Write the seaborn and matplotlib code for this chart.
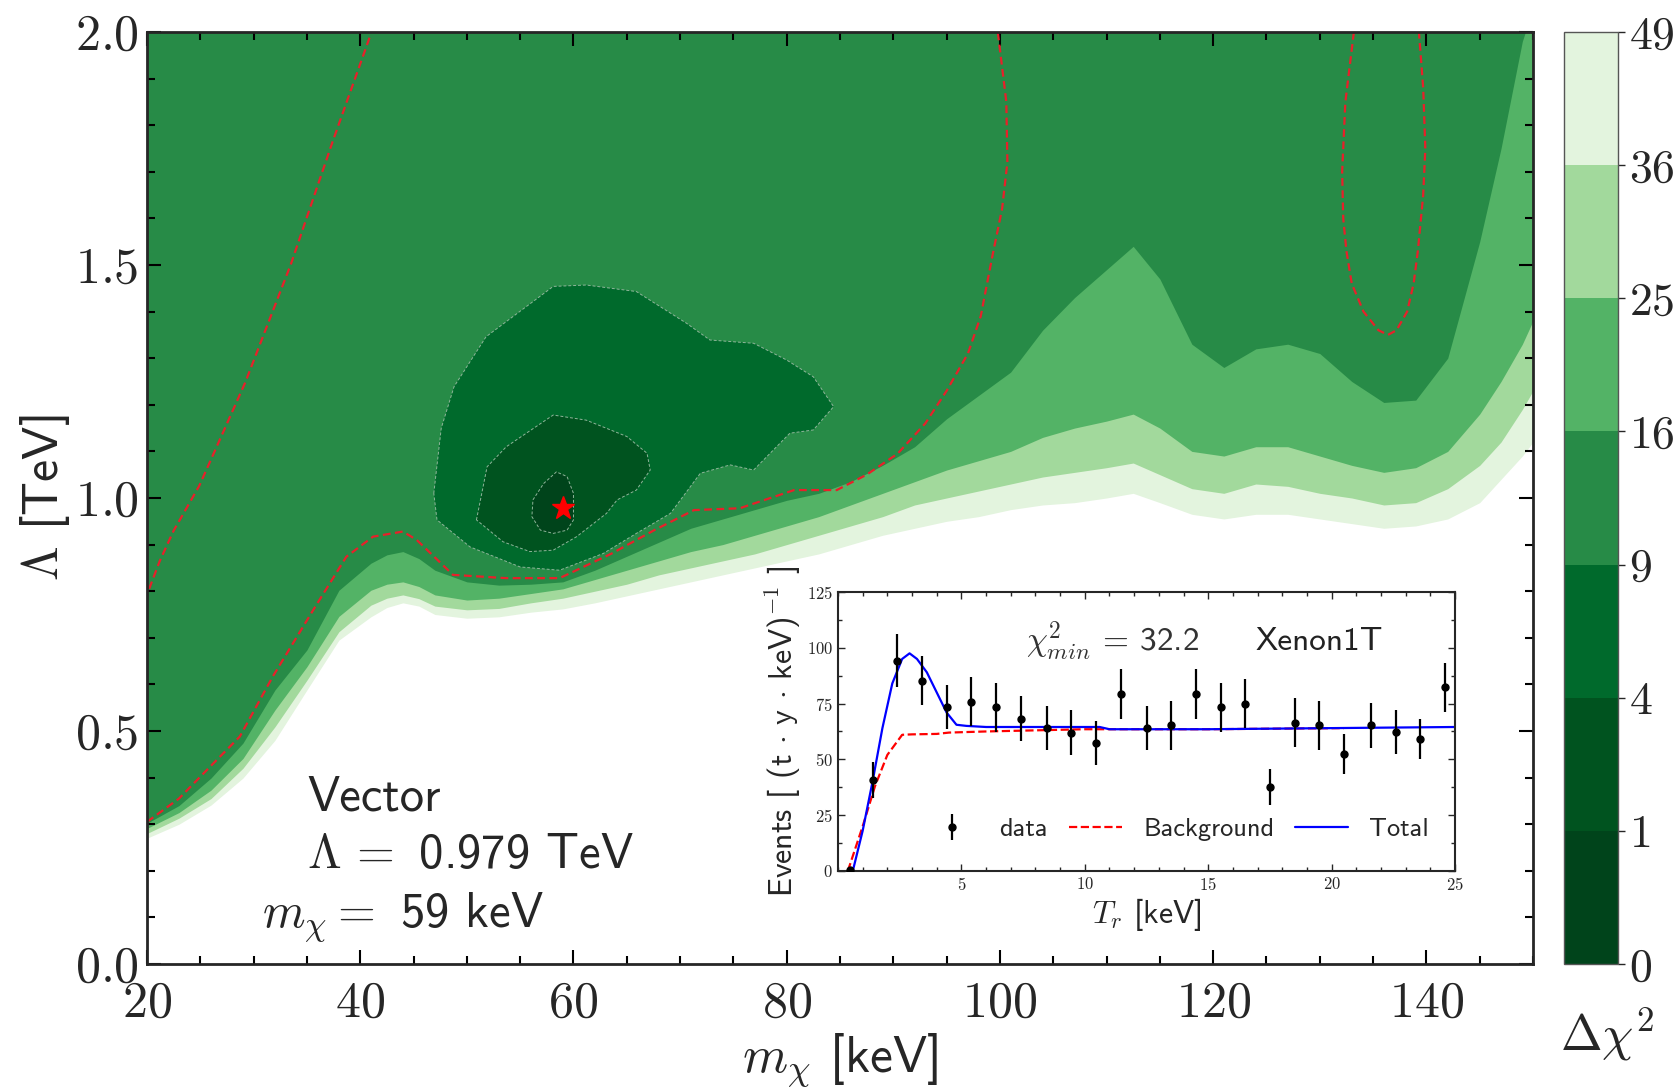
import numpy as np
import matplotlib
matplotlib.use('Agg')
import matplotlib.pyplot as plt
from matplotlib.colors import ListedColormap, BoundaryNorm
from matplotlib.cm import ScalarMappable
from matplotlib.ticker import MultipleLocator
import seaborn as sns

# ---- main scan: Delta chi^2 band edges ----
levels = [0, 1, 4, 9, 16, 25, 36, 49]
level_colors = ['#00441b', '#00531f', '#006a2c', '#278b47', '#53b366', '#a2d99c', '#e3f4de']

m_grid = [20, 23, 26, 29, 32, 35, 38, 41, 42.5, 44, 45.5, 47, 50, 53, 56, 59, 62, 65, 68, 71, 74, 77,
          80, 83, 86, 89, 92, 95, 98, 101, 104, 107, 110, 112.5, 115, 118, 121, 124, 127,
          130, 133, 136, 139, 142, 145, 147, 149, 150]
# lower edge of the 36-49 band (white below)
edge_49 = [0.270, 0.300, 0.341, 0.399, 0.480, 0.588, 0.695, 0.745, 0.765, 0.775, 0.768, 0.750, 0.742, 0.745,
           0.755, 0.762, 0.775, 0.790, 0.805, 0.820, 0.835, 0.850, 0.865, 0.880, 0.900, 0.920,
           0.935, 0.950, 0.960, 0.975, 0.985, 0.990, 1.000, 1.010, 0.990, 0.965, 0.955, 0.965,
           0.965, 0.955, 0.945, 0.935, 0.940, 0.955, 0.990, 1.040, 1.090, 1.120]
edge_36 = [0.280, 0.313, 0.355, 0.420, 0.509, 0.609, 0.713, 0.770, 0.785, 0.792, 0.784, 0.768, 0.760, 0.763,
           0.775, 0.785, 0.800, 0.815, 0.835, 0.850, 0.865, 0.880, 0.900, 0.920, 0.940, 0.960,
           0.985, 1.000, 1.015, 1.030, 1.045, 1.055, 1.065, 1.075, 1.050, 1.020, 1.010, 1.030,
           1.025, 1.010, 1.000, 0.985, 0.990, 1.020, 1.070, 1.120, 1.190, 1.230]
edge_25 = [0.291, 0.325, 0.373, 0.441, 0.545, 0.638, 0.746, 0.802, 0.815, 0.820, 0.810, 0.792, 0.781, 0.785,
           0.795, 0.805, 0.825, 0.845, 0.865, 0.885, 0.900, 0.920, 0.940, 0.960, 0.985, 1.010,
           1.035, 1.060, 1.080, 1.100, 1.130, 1.150, 1.165, 1.180, 1.150, 1.100, 1.090, 1.110,
           1.110, 1.090, 1.070, 1.055, 1.065, 1.100, 1.180, 1.250, 1.330, 1.380]
edge_16 = [0.302, 0.340, 0.399, 0.474, 0.588, 0.674, 0.802, 0.860, 0.878, 0.885, 0.870, 0.845, 0.820, 0.813,
           0.815, 0.820, 0.845, 0.875, 0.905, 0.935, 0.955, 0.975, 0.995, 1.010, 1.035, 1.070,
           1.110, 1.170, 1.220, 1.270, 1.360, 1.430, 1.490, 1.540, 1.470, 1.330, 1.280, 1.320,
           1.330, 1.310, 1.250, 1.205, 1.210, 1.300, 1.550, 1.750, 1.980, 2.050]

# closed islands around the best fit
island9_m = [46.9, 47.6, 48.8, 51.8, 58.1, 61.2, 65.9, 70.6, 72.8, 76.9, 80.0, 82.5, 84.4, 82.5, 80.3,
             76.9, 74.7, 71.9, 69.1, 65.9, 62.8, 58.7, 55.0, 50.3, 47.2]
island9_l = [1.010, 1.150, 1.239, 1.346, 1.454, 1.457, 1.443, 1.375, 1.339, 1.332, 1.296, 1.260, 1.196,
             1.146, 1.139, 1.060, 1.071, 1.053, 0.967, 0.924, 0.881, 0.845, 0.852, 0.895, 0.953]
island4_m = [50.9, 51.9, 53.7, 58.1, 61.2, 65.0, 66.9, 67.2, 65.9, 64.1, 63.1, 60.3, 58.1, 55.9, 53.4]
island4_l = [0.953, 1.067, 1.110, 1.178, 1.167, 1.132, 1.096, 1.060, 1.017, 0.996, 0.967, 0.917,
             0.888, 0.885, 0.906]
island1_m = [56.2, 57.2, 58.4, 59.4, 60.0, 60.0, 59.4, 58.1, 56.9, 56.1]
island1_l = [0.996, 1.031, 1.056, 1.046, 1.010, 0.953, 0.931, 0.924, 0.931, 0.960]

# red dashed contours
left_dash_m = [20.2, 21.2, 22.5, 24.9, 29.2, 33.5, 37.4, 41.0]
left_dash_l = [0.805, 0.865, 0.930, 1.026, 1.247, 1.502, 1.764, 1.996]
main_dash_m = [20.0, 23.0, 25.6, 28.7, 31.8, 35.6, 38.7, 41.2, 44.0, 45.3, 48.7, 53.7, 58.7, 63.6,
               67.5, 71.3, 75.6, 80.7, 84.7, 87.5, 90.4, 93.0, 95.0, 97.0, 98.2, 99.3, 100.2,
               100.7, 100.6, 99.8]
main_dash_l = [0.305, 0.355, 0.416, 0.488, 0.617, 0.760, 0.874, 0.917, 0.928, 0.910, 0.835, 0.828,
               0.828, 0.881, 0.930, 0.974, 0.978, 1.017, 1.017, 1.050, 1.095, 1.160, 1.230, 1.310,
               1.390, 1.520, 1.620, 1.720, 1.850, 2.000]
ring_dash_m = [133.2, 132.4, 132.1, 132.2, 132.5, 133.0, 134.1, 135.5, 136.4, 137.2, 138.2, 138.8,
               139.2, 139.7, 139.9, 139.7, 139.3]
ring_dash_l = [2.00, 1.85, 1.70, 1.60, 1.53, 1.46, 1.40, 1.36, 1.35, 1.36, 1.40, 1.46, 1.53, 1.65,
               1.75, 1.88, 2.00]

best_m = 59
best_lam = 0.979

# ---- inset: Xenon1T spectrum ----
tr_data = [0.5, 1.4, 2.4, 3.4, 4.4, 5.4, 6.4, 7.4, 8.45, 9.45, 10.45, 11.45, 12.5, 13.5, 14.5,
           15.5, 16.5, 17.5, 18.5, 19.5, 20.5, 21.6, 22.6, 23.6, 24.6]
ev_data = [0.5, 40.6, 94.2, 85.3, 73.4, 75.9, 73.4, 68.2, 64.0, 61.9, 57.4, 79.3, 64.0, 65.2, 79.3,
           73.4, 74.9, 37.6, 66.4, 65.2, 52.5, 65.2, 62.2, 59.2, 82.3]
ev_err = [0.0, 8.0, 12.0, 11.0, 10.0, 11.0, 11.0, 10.0, 10.0, 10.0, 10.0, 11.0, 10.0, 11.0, 11.0,
          11.0, 11.0, 8.0, 11.0, 11.0, 9.0, 10.0, 10.0, 9.0, 11.0]
tr_bkg = [0.4, 1.0, 1.5, 2.0, 2.6, 3.0, 4.0, 4.5, 6.0, 8.0, 10.0, 12.0, 15.0, 20.5]
ev_bkg = [0.0, 20.0, 38.0, 52.0, 61.0, 61.2, 61.4, 62.0, 62.5, 63.0, 63.5, 63.5, 63.5, 64.0]
tr_tot = [0.6, 1.0, 1.4, 1.8, 2.2, 2.6, 2.9, 3.2, 3.6, 4.0, 4.4, 4.8, 5.2, 6.0, 8.0, 10.0, 10.6,
          11.0, 15.0, 20.0, 25.0]
ev_tot = [0.0, 18.0, 40.0, 64.0, 84.0, 95.0, 97.5, 95.0, 89.0, 80.0, 71.0, 65.5, 65.0, 64.5, 64.5,
          64.5, 64.5, 63.5, 63.5, 64.0, 64.5]

sns.set_style('ticks')
plt.rcParams['font.family'] = ['cmss10', 'DejaVu Sans']
plt.rcParams['mathtext.fontset'] = 'cm'
plt.rcParams['axes.formatter.use_mathtext'] = True
plt.rcParams['axes.unicode_minus'] = False

fig = plt.figure(figsize=(16.8, 10.91), dpi=100)
ax = fig.add_axes([0.0875, 0.1164, 0.825, 0.8543])
cax = fig.add_axes([0.931, 0.1164, 0.032, 0.8543])
ax_in = fig.add_axes([0.4988, 0.2017, 0.3673, 0.2557])

m = np.array(m_grid)
top = np.full(len(m), 2.3)
for edge, col in zip([edge_49, edge_36, edge_25, edge_16], level_colors[:3:-1] + [level_colors[3]]):
    ax.fill_between(m, edge, top, color=col, lw=0, zorder=1)

island_edge = dict(edgecolor='#8fb59a', lw=0.7, linestyle=(0, (3, 2)), zorder=2)
ax.fill(island9_m, island9_l, facecolor=level_colors[2], **island_edge)
ax.fill(island4_m, island4_l, facecolor=level_colors[1], **island_edge)
ax.fill(island1_m, island1_l, facecolor=level_colors[0], **island_edge)

dash = dict(color='#e8202a', lw=1.6, ls=(0, (3.5, 2)), zorder=3)
ax.plot(left_dash_m, left_dash_l, **dash)
ax.plot(main_dash_m, main_dash_l, **dash)
ax.plot(ring_dash_m, ring_dash_l, **dash)
ax.plot([best_m], [best_lam], marker='*', color='red', ms=17, mec='red', zorder=4)

ax.set_axisbelow(False)
ax.set_xlim(20, 150)
ax.set_ylim(0, 2.0)
ax.xaxis.set_major_locator(MultipleLocator(20))
ax.xaxis.set_minor_locator(MultipleLocator(5))
ax.yaxis.set_major_locator(MultipleLocator(0.5))
ax.yaxis.set_minor_locator(MultipleLocator(0.1))
ax.tick_params(which='both', direction='in', top=True, right=True, width=1.5, color='black')
ax.tick_params(which='major', length=10, labelsize=36, labelfontfamily='cmr10', pad=6)
ax.tick_params(axis='x', which='major', pad=12)
ax.tick_params(which='minor', length=5.5)
for s in ax.spines.values():
    s.set_linewidth(2)
    s.set_zorder(5)
ax.set_xlabel(r'$m_\chi$ [keV]', fontsize=37, labelpad=4)
ax.set_ylabel(r'$\Lambda$ [TeV]', fontsize=36, labelpad=2)

ax.text(35.0, 0.356, 'Vector', fontsize=35, va='center')
ax.text(35.0, 0.232, r'$\Lambda\,=$ 0.979 TeV', fontsize=35, va='center')
ax.text(30.8, 0.100, r'$m_\chi=$ 59 keV', fontsize=35, va='center')

cmap = ListedColormap(level_colors)
norm = BoundaryNorm(levels, cmap.N)
cb = fig.colorbar(ScalarMappable(norm=norm, cmap=cmap), cax=cax, ticks=levels)
cb.outline.set_linewidth(1.0)
cb.outline.set_edgecolor('#555555')
cax.tick_params(labelsize=33, labelfontfamily='cmr10', length=5, width=1, pad=3)
fig.text(0.9565, 0.052, r'$\Delta\chi^2$', fontsize=36, ha='center', va='center')

# inset
ax_in.errorbar(tr_data, ev_data, yerr=ev_err, fmt='o', color='black', ms=5,
               elinewidth=1.6, capsize=0, label='data', zorder=3)
sns.lineplot(x=tr_bkg, y=ev_bkg, ax=ax_in, color='red', lw=1.6, linestyle='--',
             label='Background', zorder=2)
sns.lineplot(x=tr_tot, y=ev_tot, ax=ax_in, color='blue', lw=1.6, label='Total', zorder=2)
ax_in.set_xlim(0, 25)
ax_in.set_ylim(0, 125)
ax_in.set_xticks([5, 10, 15, 20, 25])
ax_in.xaxis.set_minor_locator(MultipleLocator(1))
ax_in.yaxis.set_major_locator(MultipleLocator(25))
ax_in.yaxis.set_minor_locator(MultipleLocator(12.5))
ax_in.tick_params(which='both', direction='in', top=True, right=True, width=1)
ax_in.tick_params(which='major', length=5, labelsize=12, labelfontfamily='cmr10')
ax_in.tick_params(which='minor', length=3)
for s in ax_in.spines.values():
    s.set_linewidth(1.5)
ax_in.set_xlabel(r'$T_r$ [keV]', fontsize=23, labelpad=2)
ax_in.set_ylabel(r'Events [ (t $\cdot$ y $\cdot$ keV)$^{-1}$ ]', fontsize=23, labelpad=3)
ax_in.text(7.6, 103, r'$\chi^2_{min}$ = 32.2', fontsize=24, color='#333333', va='center')
ax_in.text(16.9, 103, 'Xenon1T', fontsize=24, color='#222222', va='center')
h, l = ax_in.get_legend_handles_labels()
order = [l.index('data'), l.index('Background'), l.index('Total')]
ax_in.legend([h[i] for i in order], [l[i] for i in order], ncol=3, loc='lower center',
             bbox_to_anchor=(0.55, 0.04), frameon=False, fontsize=19, handlelength=2.0,
             columnspacing=0.8, handletextpad=0.8, borderpad=0.2)

fig.savefig('out.png', dpi=100)
